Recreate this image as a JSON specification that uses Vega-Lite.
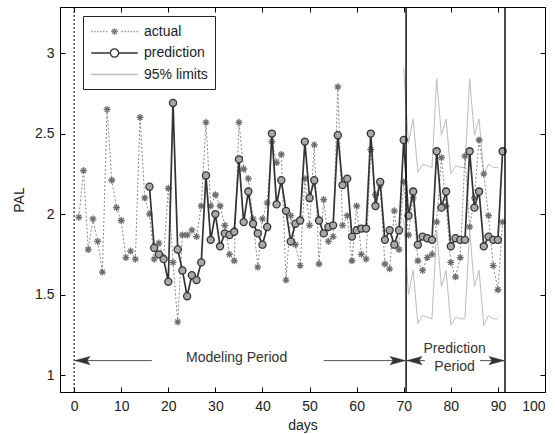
{
  "$schema": "https://vega.github.io/schema/vega-lite/v6.json",
  "width": 485,
  "height": 385,
  "autosize": {"type": "none"},
  "padding": {"left": 60, "top": 7, "right": 10, "bottom": 42},
  "background": "white",
  "config": {
    "view": {"stroke": "#000", "strokeWidth": 1},
    "font": "Liberation Sans",
    "axis": {
      "domainColor": "#000",
      "tickColor": "#000",
      "tickSize": -5,
      "grid": false,
      "labelFont": "Liberation Sans",
      "labelFontSize": 14,
      "labelColor": "#222",
      "titleFont": "Liberation Sans",
      "titleFontSize": 14,
      "titleFontWeight": "normal",
      "titleColor": "#222"
    },
    "legend": {
      "orient": "none",
      "legendX": 23,
      "legendY": 9,
      "padding": 7,
      "strokeColor": "#222",
      "fillColor": "#fff",
      "labelFont": "Liberation Sans",
      "labelFontSize": 14,
      "labelColor": "#222",
      "symbolSize": 225,
      "symbolStrokeWidth": 1.3,
      "symbolOpacity": 1,
      "symbolOffset": 16,
      "labelOffset": 21,
      "rowPadding": 5.5
    }
  },
  "datasets": {
    "actual": [
      {"day": 1, "pal": 1.98}, {"day": 2, "pal": 2.27}, {"day": 3, "pal": 1.78}, {"day": 4, "pal": 1.97},
      {"day": 5, "pal": 1.83}, {"day": 6, "pal": 1.64}, {"day": 7, "pal": 2.65}, {"day": 8, "pal": 2.21},
      {"day": 9, "pal": 2.04}, {"day": 10, "pal": 1.96}, {"day": 11, "pal": 1.73}, {"day": 12, "pal": 1.77},
      {"day": 13, "pal": 1.72}, {"day": 14, "pal": 2.60}, {"day": 15, "pal": 2.10}, {"day": 16, "pal": 2.00},
      {"day": 17, "pal": 1.72}, {"day": 18, "pal": 1.82}, {"day": 19, "pal": 1.73}, {"day": 20, "pal": 2.16},
      {"day": 21, "pal": 1.70}, {"day": 22, "pal": 1.33}, {"day": 23, "pal": 1.87}, {"day": 24, "pal": 1.87},
      {"day": 25, "pal": 1.90}, {"day": 26, "pal": 1.86}, {"day": 27, "pal": 2.05}, {"day": 28, "pal": 2.57},
      {"day": 29, "pal": 2.05}, {"day": 30, "pal": 2.12}, {"day": 31, "pal": 2.05}, {"day": 32, "pal": 1.93},
      {"day": 33, "pal": 1.75}, {"day": 34, "pal": 1.71}, {"day": 35, "pal": 2.57}, {"day": 36, "pal": 2.28},
      {"day": 37, "pal": 2.22}, {"day": 38, "pal": 1.97}, {"day": 39, "pal": 1.67}, {"day": 40, "pal": 1.97},
      {"day": 41, "pal": 2.07}, {"day": 42, "pal": 2.45}, {"day": 43, "pal": 2.32}, {"day": 44, "pal": 2.37},
      {"day": 45, "pal": 1.59}, {"day": 46, "pal": 1.99}, {"day": 47, "pal": 1.81}, {"day": 48, "pal": 1.68},
      {"day": 49, "pal": 2.22}, {"day": 50, "pal": 1.93}, {"day": 51, "pal": 2.43}, {"day": 52, "pal": 1.69},
      {"day": 53, "pal": 2.09}, {"day": 54, "pal": 1.83}, {"day": 55, "pal": 1.86}, {"day": 56, "pal": 2.79},
      {"day": 57, "pal": 1.93}, {"day": 58, "pal": 1.99}, {"day": 59, "pal": 1.71}, {"day": 60, "pal": 2.05},
      {"day": 61, "pal": 1.75}, {"day": 62, "pal": 1.72}, {"day": 63, "pal": 2.40}, {"day": 64, "pal": 2.12},
      {"day": 65, "pal": 2.18}, {"day": 66, "pal": 1.69}, {"day": 67, "pal": 1.66}, {"day": 68, "pal": 2.02},
      {"day": 69, "pal": 1.78}, {"day": 70, "pal": 2.20}, {"day": 71, "pal": 1.87}, {"day": 72, "pal": 2.10},
      {"day": 73, "pal": 1.71}, {"day": 74, "pal": 1.65}, {"day": 75, "pal": 1.73}, {"day": 76, "pal": 1.75},
      {"day": 77, "pal": 1.95}, {"day": 78, "pal": 2.35}, {"day": 79, "pal": 2.05}, {"day": 80, "pal": 1.70},
      {"day": 81, "pal": 1.61}, {"day": 82, "pal": 1.73}, {"day": 83, "pal": 2.36}, {"day": 84, "pal": 1.92},
      {"day": 85, "pal": 2.10}, {"day": 86, "pal": 2.46}, {"day": 87, "pal": 2.25}, {"day": 88, "pal": 1.99},
      {"day": 89, "pal": 1.68}, {"day": 90, "pal": 1.53}, {"day": 91, "pal": 1.95}
    ],
    "prediction": [
      {"day": 16, "pal": 2.17}, {"day": 17, "pal": 1.79}, {"day": 18, "pal": 1.75}, {"day": 19, "pal": 1.72},
      {"day": 20, "pal": 1.58}, {"day": 21, "pal": 2.69}, {"day": 22, "pal": 1.78}, {"day": 23, "pal": 1.65},
      {"day": 24, "pal": 1.49}, {"day": 25, "pal": 1.62}, {"day": 26, "pal": 1.59}, {"day": 27, "pal": 1.70},
      {"day": 28, "pal": 2.24}, {"day": 29, "pal": 1.84}, {"day": 30, "pal": 2.00}, {"day": 31, "pal": 1.80},
      {"day": 32, "pal": 1.88}, {"day": 33, "pal": 1.87}, {"day": 34, "pal": 1.89}, {"day": 35, "pal": 2.34},
      {"day": 36, "pal": 1.95}, {"day": 37, "pal": 2.14}, {"day": 38, "pal": 1.94}, {"day": 39, "pal": 1.88},
      {"day": 40, "pal": 1.81}, {"day": 41, "pal": 1.92}, {"day": 42, "pal": 2.50}, {"day": 43, "pal": 2.06},
      {"day": 44, "pal": 2.21}, {"day": 45, "pal": 2.02}, {"day": 46, "pal": 1.83}, {"day": 47, "pal": 1.94},
      {"day": 48, "pal": 1.96}, {"day": 49, "pal": 2.45}, {"day": 50, "pal": 2.10}, {"day": 51, "pal": 2.21},
      {"day": 52, "pal": 1.96}, {"day": 53, "pal": 1.88}, {"day": 54, "pal": 1.92}, {"day": 55, "pal": 1.93},
      {"day": 56, "pal": 2.49}, {"day": 57, "pal": 2.18}, {"day": 58, "pal": 2.22}, {"day": 59, "pal": 1.86},
      {"day": 60, "pal": 1.90}, {"day": 61, "pal": 1.91}, {"day": 62, "pal": 1.91}, {"day": 63, "pal": 2.50},
      {"day": 64, "pal": 2.05}, {"day": 65, "pal": 2.20}, {"day": 66, "pal": 1.84}, {"day": 67, "pal": 1.90},
      {"day": 68, "pal": 1.81}, {"day": 69, "pal": 1.90}, {"day": 70, "pal": 2.46}, {"day": 71, "pal": 1.99},
      {"day": 72, "pal": 2.14}, {"day": 73, "pal": 1.81}, {"day": 74, "pal": 1.86}, {"day": 75, "pal": 1.85},
      {"day": 76, "pal": 1.84}, {"day": 77, "pal": 2.39}, {"day": 78, "pal": 2.04}, {"day": 79, "pal": 2.14},
      {"day": 80, "pal": 1.80}, {"day": 81, "pal": 1.85}, {"day": 82, "pal": 1.84}, {"day": 83, "pal": 1.84},
      {"day": 84, "pal": 2.39}, {"day": 85, "pal": 2.04}, {"day": 86, "pal": 2.14}, {"day": 87, "pal": 1.80},
      {"day": 88, "pal": 1.86}, {"day": 89, "pal": 1.84}, {"day": 90, "pal": 1.84}, {"day": 91, "pal": 2.39}
    ],
    "limits": [
      {"day": 70, "lower": 1.97, "upper": 2.91}, {"day": 71, "lower": 1.50, "upper": 2.44},
      {"day": 72, "lower": 1.65, "upper": 2.59}, {"day": 73, "lower": 1.32, "upper": 2.26},
      {"day": 74, "lower": 1.37, "upper": 2.31}, {"day": 75, "lower": 1.36, "upper": 2.30},
      {"day": 76, "lower": 1.35, "upper": 2.29}, {"day": 77, "lower": 1.90, "upper": 2.84},
      {"day": 78, "lower": 1.55, "upper": 2.49}, {"day": 79, "lower": 1.65, "upper": 2.59},
      {"day": 80, "lower": 1.31, "upper": 2.25}, {"day": 81, "lower": 1.36, "upper": 2.30},
      {"day": 82, "lower": 1.35, "upper": 2.29}, {"day": 83, "lower": 1.35, "upper": 2.29},
      {"day": 84, "lower": 1.90, "upper": 2.84}, {"day": 85, "lower": 1.55, "upper": 2.49},
      {"day": 86, "lower": 1.65, "upper": 2.59}, {"day": 87, "lower": 1.31, "upper": 2.25},
      {"day": 88, "lower": 1.37, "upper": 2.31}, {"day": 89, "lower": 1.35, "upper": 2.29},
      {"day": 90, "lower": 1.35, "upper": 2.29}
    ],
    "periodBounds": [{"day": 70.5}, {"day": 91.5}],
    "modelStart": [{"day": 0}],
    "arrows": [
      {"from": 16.5, "to": 0.2, "pal": 1.09, "dir": "left"},
      {"from": 53, "to": 70.3, "pal": 1.09, "dir": "right"},
      {"from": 74.5, "to": 70.7, "pal": 1.09, "dir": "left"},
      {"from": 86.2, "to": 91.3, "pal": 1.09, "dir": "right"}
    ],
    "notes": [
      {"day": 34.5, "pal": 1.107, "text": "Modeling Period"},
      {"day": 80.8, "pal": 1.16, "text": "Prediction"},
      {"day": 80.8, "pal": 1.05, "text": "Period"}
    ],
    "series": [
      {"series": "actual"},
      {"series": "prediction"},
      {"series": "95% limits"}
    ]
  },
  "layer": [
    {
      "layer": [
        {
          "data": {"name": "limits"},
          "mark": {"type": "line", "stroke": "#bdbdbd", "strokeWidth": 1},
          "encoding": {
            "x": {"field": "day", "type": "quantitative", "title": "days", "scale": {"domain": [-3, 100], "nice": false, "zero": false},
                  "axis": {"values": [0, 10, 20, 30, 40, 50, 60, 70, 80, 90, 100], "labelPadding": 12, "titlePadding": 5}},
            "y": {"field": "upper", "type": "quantitative", "title": "PAL", "scale": {"domain": [0.895, 3.286], "nice": false, "zero": false},
                  "axis": {"values": [1, 1.5, 2, 2.5, 3], "format": "~g", "labelPadding": 11, "titlePadding": 8}}
          }
        },
        {
          "data": {"name": "limits"},
          "mark": {"type": "line", "stroke": "#bdbdbd", "strokeWidth": 1},
          "encoding": {
            "x": {"field": "day", "type": "quantitative", "title": "days", "scale": {"domain": [-3, 100], "nice": false, "zero": false}},
            "y": {"field": "lower", "type": "quantitative", "title": "PAL", "scale": {"domain": [0.895, 3.286], "nice": false, "zero": false}}
          }
        },
        {
          "data": {"name": "actual"},
          "mark": {"type": "line", "stroke": "#8a8a8a", "strokeWidth": 1, "strokeDash": [2, 2]},
          "encoding": {
            "x": {"field": "day", "type": "quantitative", "title": "days", "scale": {"domain": [-3, 100], "nice": false, "zero": false}},
            "y": {"field": "pal", "type": "quantitative", "title": "PAL", "scale": {"domain": [0.895, 3.286], "nice": false, "zero": false}}
          }
        },
        {
          "data": {"name": "actual"},
          "mark": {"type": "point", "filled": false, "stroke": "#6e6e6e", "strokeWidth": 1.3, "size": 49,
                   "shape": "M-1,0L1,0M0,-1L0,1M-0.7,-0.7L0.7,0.7M-0.7,0.7L0.7,-0.7", "opacity": 1},
          "encoding": {
            "x": {"field": "day", "type": "quantitative", "title": "days", "scale": {"domain": [-3, 100], "nice": false, "zero": false}},
            "y": {"field": "pal", "type": "quantitative", "title": "PAL", "scale": {"domain": [0.895, 3.286], "nice": false, "zero": false}}
          }
        },
        {
          "data": {"name": "prediction"},
          "mark": {"type": "line", "stroke": "#333", "strokeWidth": 1.7},
          "encoding": {
            "x": {"field": "day", "type": "quantitative", "title": "days", "scale": {"domain": [-3, 100], "nice": false, "zero": false}},
            "y": {"field": "pal", "type": "quantitative", "title": "PAL", "scale": {"domain": [0.895, 3.286], "nice": false, "zero": false}}
          }
        },
        {
          "data": {"name": "prediction"},
          "mark": {"type": "point", "shape": "circle", "filled": false, "fill": "#a8a8a8", "fillOpacity": 1, "stroke": "#333", "strokeWidth": 1.3, "size": 50, "opacity": 1},
          "encoding": {
            "x": {"field": "day", "type": "quantitative", "title": "days", "scale": {"domain": [-3, 100], "nice": false, "zero": false}},
            "y": {"field": "pal", "type": "quantitative", "title": "PAL", "scale": {"domain": [0.895, 3.286], "nice": false, "zero": false}}
          }
        },
        {
          "data": {"name": "modelStart"},
          "mark": {"type": "rule", "stroke": "#222", "strokeWidth": 1.2, "strokeDash": [2, 2]},
          "encoding": {
            "x": {"field": "day", "type": "quantitative", "title": "days", "scale": {"domain": [-3, 100], "nice": false, "zero": false}}
          }
        },
        {
          "data": {"name": "periodBounds"},
          "mark": {"type": "rule", "stroke": "#111", "strokeWidth": 1.5},
          "encoding": {
            "x": {"field": "day", "type": "quantitative", "title": "days", "scale": {"domain": [-3, 100], "nice": false, "zero": false}}
          }
        },
        {
          "data": {"name": "arrows"},
          "mark": {"type": "rule", "stroke": "#555", "strokeWidth": 1},
          "encoding": {
            "x": {"field": "from", "type": "quantitative", "title": "days", "scale": {"domain": [-3, 100], "nice": false, "zero": false}},
            "x2": {"field": "to"},
            "y": {"field": "pal", "type": "quantitative", "title": "PAL", "scale": {"domain": [0.895, 3.286], "nice": false, "zero": false}}
          }
        },
        {
          "data": {"name": "arrows"},
          "transform": [{"filter": "datum.dir == 'left'"}],
          "mark": {"type": "point", "shape": "M0,0L2,-0.55L1.6,0L2,0.55Z", "size": 225, "filled": true, "fill": "#333", "stroke": "#333", "strokeWidth": 0.5, "opacity": 1},
          "encoding": {
            "x": {"field": "to", "type": "quantitative", "title": "days", "scale": {"domain": [-3, 100], "nice": false, "zero": false}},
            "y": {"field": "pal", "type": "quantitative", "title": "PAL", "scale": {"domain": [0.895, 3.286], "nice": false, "zero": false}}
          }
        },
        {
          "data": {"name": "arrows"},
          "transform": [{"filter": "datum.dir == 'right'"}],
          "mark": {"type": "point", "shape": "M0,0L-2,-0.55L-1.6,0L-2,0.55Z", "size": 225, "filled": true, "fill": "#333", "stroke": "#333", "strokeWidth": 0.5, "opacity": 1},
          "encoding": {
            "x": {"field": "to", "type": "quantitative", "title": "days", "scale": {"domain": [-3, 100], "nice": false, "zero": false}},
            "y": {"field": "pal", "type": "quantitative", "title": "PAL", "scale": {"domain": [0.895, 3.286], "nice": false, "zero": false}}
          }
        },
        {
          "data": {"name": "notes"},
          "mark": {"type": "text", "font": "Liberation Sans", "fontSize": 14, "color": "#333", "align": "center", "baseline": "middle"},
          "encoding": {
            "x": {"field": "day", "type": "quantitative", "title": "days", "scale": {"domain": [-3, 100], "nice": false, "zero": false}},
            "y": {"field": "pal", "type": "quantitative", "title": "PAL", "scale": {"domain": [0.895, 3.286], "nice": false, "zero": false}},
            "text": {"field": "text"}
          }
        },
        {
          "data": {"name": "series"},
          "mark": {"type": "point", "filled": false, "opacity": 0},
          "encoding": {
            "color": {"field": "series", "type": "nominal", "title": null,
                      "scale": {"domain": ["actual", "prediction", "95% limits"], "range": ["#7a7a7a", "#333333", "#bdbdbd"]}},
            "shape": {"field": "series", "type": "nominal", "title": null,
                      "scale": {"domain": ["actual", "prediction", "95% limits"],
                                "range": [
                                  "M-3.1,0L-2.95,0M-2.7,0L-2.55,0M-2.3,0L-2.15,0M-1.9,0L-1.75,0M-1.5,0L-1.35,0M-1.1,0L-0.95,0M0.95,0L1.1,0M1.35,0L1.5,0M1.75,0L1.9,0M2.15,0L2.3,0M2.55,0L2.7,0M2.95,0L3.1,0M-0.45,0L0.45,0M0,-0.45L0,0.45M-0.32,-0.32L0.32,0.32M-0.32,0.32L0.32,-0.32",
                                  "M-3.1,0L-0.55,0M0.55,0L3.1,0M-0.55,0A0.55,0.55 0 1,0 0.55,0A0.55,0.55 0 1,0 -0.55,0",
                                  "M-3.1,0L3.1,0"
                                ]}}
          }
        }
      ]
    },
    {
      "data": {"name": "actual"},
      "mark": {"type": "point", "opacity": 0},
      "encoding": {
        "x": {"field": "day", "type": "quantitative", "scale": {"domain": [-3, 100], "nice": false, "zero": false},
              "axis": {"orient": "top", "labels": false, "title": null, "values": [0, 10, 20, 30, 40, 50, 60, 70, 80, 90, 100]}},
        "y": {"field": "pal", "type": "quantitative", "scale": {"domain": [0.895, 3.286], "nice": false, "zero": false},
              "axis": {"orient": "right", "labels": false, "title": null, "values": [1, 1.5, 2, 2.5, 3]}}
      }
    }
  ],
  "resolve": {"axis": {"x": "independent", "y": "independent"}}
}
